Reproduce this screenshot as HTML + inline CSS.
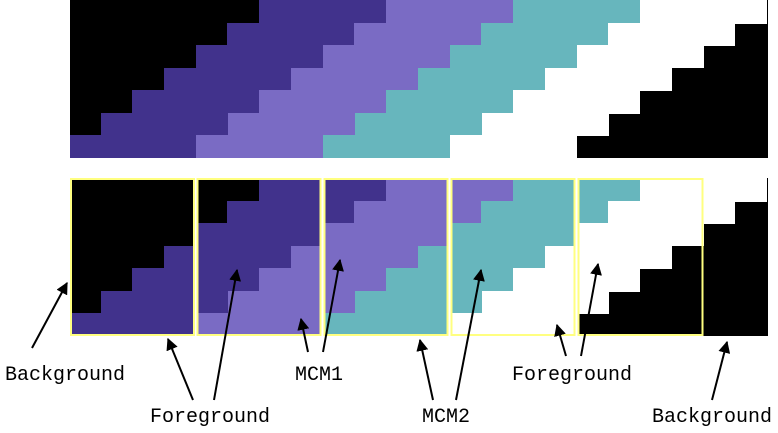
<!DOCTYPE html>
<html><head><style>
html,body{margin:0;padding:0;background:#fff;}
svg{display:block;}
text{font-family:"Liberation Mono",monospace;font-size:20px;fill:#000;}
</style></head><body>
<svg width="778" height="433" viewBox="0 0 778 433" xmlns="http://www.w3.org/2000/svg">
<defs>
<clipPath id="c"><rect x="70" y="0" width="698" height="158"/></clipPath>
<g id="band" clip-path="url(#c)" shape-rendering="crispEdges">
<rect x="70" y="0" width="698" height="158" fill="#000"/>
<g>
<rect x="259" y="0" width="128" height="24" fill="#41328c"/><rect x="386" y="0" width="128" height="24" fill="#7a6bc4"/><rect x="513" y="0" width="128" height="24" fill="#67b6bd"/><rect x="640" y="0" width="127" height="24" fill="#fff"/>
<rect x="227" y="23" width="128" height="23" fill="#41328c"/><rect x="354" y="23" width="128" height="23" fill="#7a6bc4"/><rect x="481" y="23" width="128" height="23" fill="#67b6bd"/><rect x="608" y="23" width="127" height="23" fill="#fff"/>
<rect x="196" y="45" width="128" height="23" fill="#41328c"/><rect x="323" y="45" width="128" height="23" fill="#7a6bc4"/><rect x="450" y="45" width="128" height="23" fill="#67b6bd"/><rect x="577" y="45" width="127" height="23" fill="#fff"/>
<rect x="164" y="68" width="128" height="23" fill="#41328c"/><rect x="291" y="68" width="128" height="23" fill="#7a6bc4"/><rect x="418" y="68" width="128" height="23" fill="#67b6bd"/><rect x="545" y="68" width="127" height="23" fill="#fff"/>
<rect x="132" y="90" width="128" height="24" fill="#41328c"/><rect x="259" y="90" width="128" height="24" fill="#7a6bc4"/><rect x="386" y="90" width="128" height="24" fill="#67b6bd"/><rect x="513" y="90" width="127" height="24" fill="#fff"/>
<rect x="101" y="113" width="128" height="23" fill="#41328c"/><rect x="228" y="113" width="128" height="23" fill="#7a6bc4"/><rect x="355" y="113" width="128" height="23" fill="#67b6bd"/><rect x="482" y="113" width="127" height="23" fill="#fff"/>
<rect x="69" y="135" width="128" height="23" fill="#41328c"/><rect x="196" y="135" width="128" height="23" fill="#7a6bc4"/><rect x="323" y="135" width="128" height="23" fill="#67b6bd"/><rect x="450" y="135" width="127" height="23" fill="#fff"/>
</g>
</g>
<marker id="a" viewBox="0 0 10 10" refX="9" refY="5" markerWidth="6" markerHeight="6" orient="auto"><path d="M0,0 L10,5 L0,10 z" fill="#000"/></marker>
</defs>
<use href="#band"/>
<use href="#band" y="178"/>
<g fill="#fff">
<rect x="194.5" y="178" width="2" height="158"/><rect x="321.5" y="178" width="2" height="158"/><rect x="448.5" y="178" width="2" height="158"/><rect x="575.5" y="178" width="2" height="158"/>
</g>
<g fill="none" stroke="#ffff80" stroke-width="2">
<rect x="71" y="179" width="123" height="156"/>
<rect x="197.5" y="179" width="123" height="156"/>
<rect x="324.5" y="179" width="123" height="156"/>
<rect x="451.5" y="179" width="123" height="156"/>
<rect x="578.5" y="179" width="124" height="156"/>
</g>
<g stroke="#000" stroke-width="2" marker-end="url(#a)">
<line x1="32" y1="348" x2="67" y2="283"/>
<line x1="193" y1="400" x2="168" y2="339"/>
<line x1="214" y1="400" x2="237" y2="270"/>
<line x1="308" y1="352" x2="301" y2="319"/>
<line x1="323" y1="352" x2="340" y2="260"/>
<line x1="433" y1="400" x2="420" y2="340"/>
<line x1="456" y1="400" x2="481" y2="270"/>
<line x1="566" y1="356" x2="557" y2="325"/>
<line x1="581" y1="356" x2="598" y2="264"/>
<line x1="712" y1="400" x2="727" y2="342"/>
</g>
<text x="5" y="380">Background</text>
<text x="150" y="422">Foreground</text>
<text x="295" y="380">MCM1</text>
<text x="422" y="422">MCM2</text>
<text x="512" y="380">Foreground</text>
<text x="652" y="422">Background</text>
</svg>
</body></html>
